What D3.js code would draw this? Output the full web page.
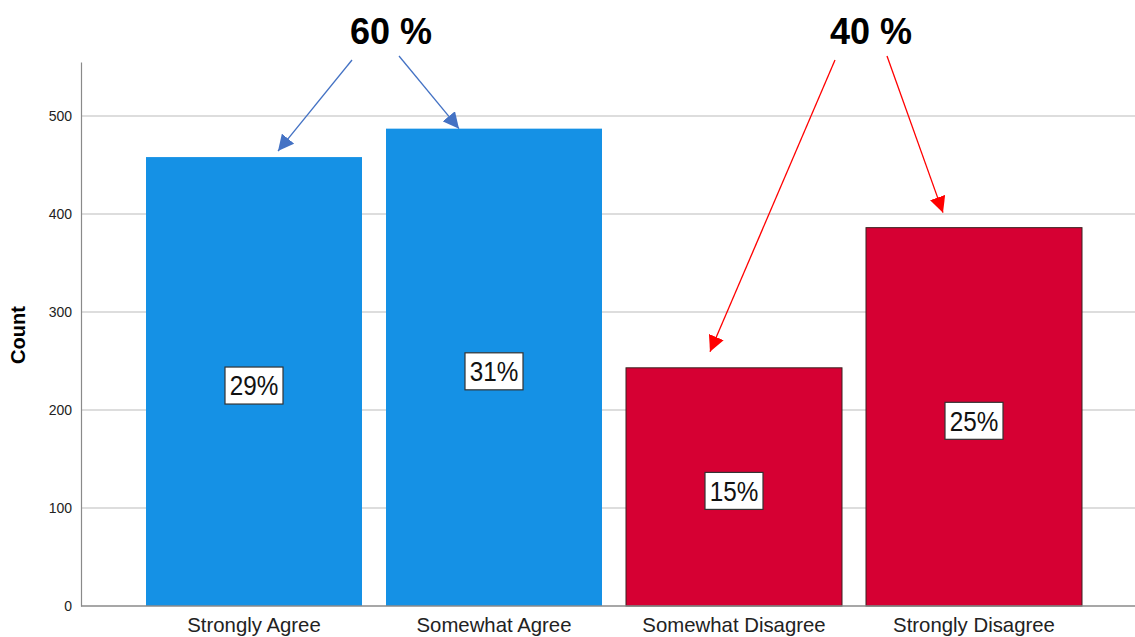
<!DOCTYPE html>
<html>
<head>
<meta charset="utf-8">
<script src="https://cdn.jsdelivr.net/npm/d3@7"></script>
<style>
  body { margin: 0; background: #fff; }
  text { font-family: "Liberation Sans", Arial, sans-serif; }
</style>
</head>
<body>
<svg id="chart"></svg>
<script>
// data
const categories = ["Strongly Agree", "Somewhat Agree", "Somewhat Disagree", "Strongly Disagree"];
const counts = [458, 487, 243, 386];
const yTicks = [0, 100, 200, 300, 400, 500];
const groups = [["Strongly Agree", "Somewhat Agree"], ["Somewhat Disagree", "Strongly Disagree"]];

const width = 1135;
const height = 637;
const blue = "#1591e5";
const red = "#d60033";

const svg = d3.select('#chart')
  .attr('width', width)
  .attr('height', height);

const total = d3.sum(counts);
const pct = counts.map(c => Math.round(c / total * 100));

const x = d3.scaleBand()
  .domain(categories)
  .range([134, 1094])
  .paddingInner(0.1)
  .paddingOuter(0.05);

const y = d3.scaleLinear()
  .domain([0, 555])
  .range([606, 62]);

// gridlines
svg.append('g')
  .selectAll('line')
  .data(yTicks.filter(d => d > 0))
  .enter()
  .append('line')
  .attr('x1', 81).attr('x2', width)
  .attr('y1', d => y(d)).attr('y2', d => y(d))
  .attr('stroke', '#d2d2d2')
  .attr('stroke-width', 1.5);

// y axis
const yAxis = svg.append('g')
  .attr('transform', 'translate(81,0)')
  .call(d3.axisLeft(y).tickValues(yTicks).tickSize(0).tickPadding(9));
yAxis.select('.domain').attr('stroke', '#8a8a8a').attr('stroke-width', 1.2);
yAxis.selectAll('text')
  .attr('font-size', 14)
  .attr('fill', '#222')
  .style('font-family', '"Liberation Sans", Arial, sans-serif');

svg.append('text')
  .attr('transform', 'translate(25,335) rotate(-90)')
  .attr('text-anchor', 'middle')
  .attr('font-size', 20)
  .attr('font-weight', 'bold')
  .text('Count');

// bars
const isAgree = (i) => i < 2;
svg.append('g')
  .selectAll('rect')
  .data(counts)
  .enter()
  .append('rect')
  .attr('x', (d, i) => x(categories[i]))
  .attr('y', d => y(d))
  .attr('width', x.bandwidth())
  .attr('height', d => y(0) - y(d))
  .attr('fill', (d, i) => isAgree(i) ? blue : red)
  .attr('stroke', (d, i) => isAgree(i) ? 'none' : '#3a2020')
  .attr('stroke-width', 1);

// x axis line
svg.append('line')
  .attr('x1', 81).attr('x2', width)
  .attr('y1', y(0)).attr('y2', y(0))
  .attr('stroke', '#8a8a8a')
  .attr('stroke-width', 1.5);

// x labels
svg.append('g')
  .selectAll('text')
  .data(categories)
  .enter()
  .append('text')
  .attr('transform', d => `translate(${x(d) + x.bandwidth() / 2},632) scale(0.97,1)`)
  .attr('text-anchor', 'middle')
  .attr('font-size', 21)
  .attr('fill', '#222')
  .text(d => d);

// percent boxes in the middle of each bar
const labels = svg.append('g')
  .selectAll('g')
  .data(counts)
  .enter()
  .append('g')
  .attr('transform', (d, i) => `translate(${x(categories[i]) + x.bandwidth() / 2},${(y(d) + y(0)) / 2 + 4})`);

labels.append('rect')
  .attr('x', -29).attr('y', -18.5)
  .attr('width', 58).attr('height', 37)
  .attr('fill', '#fff')
  .attr('stroke', '#333')
  .attr('stroke-width', 1.2);

labels.append('text')
  .attr('transform', 'scale(0.9,1)')
  .attr('text-anchor', 'middle')
  .attr('dy', '0.36em')
  .attr('font-size', 27)
  .attr('fill', '#111')
  .text((d, i) => pct[i] + '%');

// group annotations with arrows
const defs = svg.append('defs');
[['blue', '#4472c4'], ['red', '#ff0000']].forEach(([id, c]) => {
  defs.append('marker')
    .attr('id', 'arrow-' + id)
    .attr('viewBox', '0 0 10 10')
    .attr('refX', 10).attr('refY', 5)
    .attr('markerWidth', 16).attr('markerHeight', 16)
    .attr('markerUnits', 'userSpaceOnUse')
    .attr('orient', 'auto')
    .append('path')
    .attr('d', 'M0,0 L10,5 L0,10 Z')
    .attr('fill', c);
});

const annot = [
  { colour: '#4472c4', marker: 'blue', from: [[-39, 60], [8, 56]], tip: [[24, -6], [-35, 0]] },
  { colour: '#ff0000', marker: 'red', from: [[-36, 60], [16, 56]], tip: [[-24, -16], [-31, -15]] }
];

groups.forEach((g, gi) => {
  const a = annot[gi];
  const idx = g.map(c => categories.indexOf(c));
  const centres = idx.map(i => x(categories[i]) + x.bandwidth() / 2);
  const lx = d3.mean(centres) + 17;
  const share = d3.sum(idx, i => pct[i]);

  svg.append('text')
    .attr('x', lx).attr('y', 44)
    .attr('text-anchor', 'middle')
    .attr('font-size', 36)
    .attr('font-weight', 'bold')
    .attr('fill', '#000')
    .text(share + ' %');

  idx.forEach((i, k) => {
    svg.append('line')
      .attr('x1', lx + a.from[k][0]).attr('y1', a.from[k][1])
      .attr('x2', centres[k] + a.tip[k][0]).attr('y2', y(counts[i]) + a.tip[k][1])
      .attr('stroke', a.colour)
      .attr('stroke-width', 1.3)
      .attr('marker-end', `url(#arrow-${a.marker})`);
  });
});
</script>
</body>
</html>
